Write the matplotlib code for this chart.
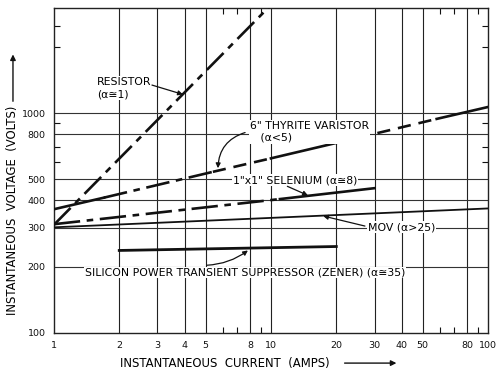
import matplotlib
matplotlib.use("Agg")
import matplotlib.pyplot as plt
from matplotlib.patches import FancyArrowPatch
from matplotlib.ticker import FixedLocator, NullFormatter

# curves (amps, volts)
resistor_i = [1, 10]
resistor_v = [310, 3100]
# thyrite drawn as solid / dash-dot / dashed pieces
thyrite_i = [1, 1.7, 5.4, 10, 20, 58, 100]
thyrite_v = [365, 412, 540, 622, 731, 940, 1065]
thyrite_ls = ["-", "dashdot", "dashed", "-", "dashed", "-"]
selenium_i = [1, 11, 30]
selenium_v = [312, 406, 455]
selenium_ls = ["dashdot", "-"]
mov_i = [1, 100]
mov_v = [302, 368]
zener_i = [2, 20]
zener_v = [237, 247]

x_major = [1, 2, 3, 4, 5, 8, 10, 20, 30, 40, 50, 80, 100]
x_minor = [6, 7, 9, 60, 70, 90]
y_major = [100, 200, 300, 400, 500, 800, 1000]
y_minor = [600, 700, 900, 2000, 2500]

plt.rcParams["font.family"] = "DejaVu Sans"
fig = plt.figure(figsize=(4.99, 3.69), dpi=100)
ax = fig.add_axes([0.108, 0.098, 0.870, 0.880])
ax.set_xscale("log"); ax.set_yscale("log")
ax.set_xlim(1, 100); ax.set_ylim(100, 3000)

for x in x_major[1:-1]:
    ax.axvline(x, color="#222222", lw=0.8, zorder=1)
for y in y_major[1:]:
    ax.axhline(y, color="#333333", lw=0.8, zorder=1)

ink = "#111111"
ax.plot(resistor_i, resistor_v, color=ink, lw=1.9, dashes=(9, 2.5, 2.5, 2.5), zorder=3)
for k, ls in enumerate(thyrite_ls):
    kw = dict(dashes=(9, 2.5, 2.5, 2.5)) if ls == "dashdot" else (dict(dashes=(5, 3)) if ls == "dashed" else {})
    ax.plot(thyrite_i[k:k + 2], thyrite_v[k:k + 2], color=ink, lw=1.9, zorder=3, **kw)
for k, ls in enumerate(selenium_ls):
    kw = dict(dashes=(10, 2.5, 2.5, 2.5)) if ls == "dashdot" else {}
    ax.plot(selenium_i[k:k + 2], selenium_v[k:k + 2], color=ink, lw=1.9, zorder=3, **kw)
ax.plot(mov_i, mov_v, color=ink, lw=1.3, zorder=3)
ax.plot(zener_i, zener_v, color=ink, lw=2.0, zorder=3)

tfs = 7.8
box = dict(facecolor="white", edgecolor="none", pad=0.6)
arr = dict(arrowstyle="-|>", color=ink, lw=0.9, mutation_scale=7, shrinkA=0, shrinkB=0)
ax.text(1.58, 1300, "RESISTOR\n(α≅1)", fontsize=tfs, ha="left", va="center", linespacing=1.3,
        bbox=box, zorder=4)
ax.annotate("", xy=(3.93, 1215), xytext=(2.83, 1340), arrowprops=arr, zorder=4)
ax.text(8.0, 820, '6" THYRITE VARISTOR\n   (α<5)', fontsize=tfs, ha="left", va="center",
        linespacing=1.2, bbox=box, zorder=4)
ax.annotate("", xy=(5.7, 561), xytext=(7.6, 815),
            arrowprops=dict(arr, connectionstyle="arc3,rad=0.35"), zorder=5)
ax.text(6.68, 494, '1"x1" SELENIUM (α≅8)', fontsize=tfs, ha="left", va="center", bbox=box, zorder=4)
ax.annotate("", xy=(14.8, 422), xytext=(11.9, 464), arrowprops=arr, zorder=5)
ax.text(28, 302, "MOV (α>25)", fontsize=tfs, ha="left", va="center", bbox=box, zorder=4)
ax.annotate("", xy=(17.4, 340), xytext=(27.1, 306), arrowprops=arr, zorder=5)
ax.text(1.39, 188, "SILICON POWER TRANSIENT SUPPRESSOR (ZENER) (α≅35)", fontsize=tfs,
        ha="left", va="center", bbox=box, zorder=4)
ax.annotate("", xy=(7.83, 237), xytext=(5.07, 203),
            arrowprops=dict(arr, connectionstyle="arc3,rad=0.15"), zorder=5)

ax.xaxis.set_major_locator(FixedLocator(x_major))
ax.xaxis.set_minor_locator(FixedLocator(x_minor))
ax.set_xticklabels([str(v) for v in x_major])
ax.xaxis.set_minor_formatter(NullFormatter())
ax.yaxis.set_major_locator(FixedLocator(y_major))
ax.yaxis.set_minor_locator(FixedLocator(y_minor))
ax.set_yticklabels([str(v) for v in y_major])
ax.yaxis.set_minor_formatter(NullFormatter())
ax.tick_params(which="both", direction="in", top=True, right=True, labelsize=6.8, colors=ink)
ax.tick_params(which="major", length=0, pad=6)
ax.tick_params(which="minor", length=4, width=0.8)
for s in ax.spines.values():
    s.set_linewidth(1.0); s.set_color("#222222")

fig.text(0.24, 0.016, "INSTANTANEOUS  CURRENT  (AMPS)", fontsize=8.4, ha="left", va="center")
fig.add_artist(FancyArrowPatch((0.685, 0.016), (0.80, 0.016), transform=fig.transFigure,
                               arrowstyle="-|>", mutation_scale=8, lw=1.0, color=ink))
fig.text(0.026, 0.146, "INSTANTANEOUS  VOLTAGE  (VOLTS)", fontsize=8.4, rotation=90, ha="center", va="bottom")
fig.add_artist(FancyArrowPatch((0.026, 0.718), (0.026, 0.86), transform=fig.transFigure,
                               arrowstyle="-|>", mutation_scale=8, lw=1.0, color=ink))

fig.savefig("out.png", dpi=100)
